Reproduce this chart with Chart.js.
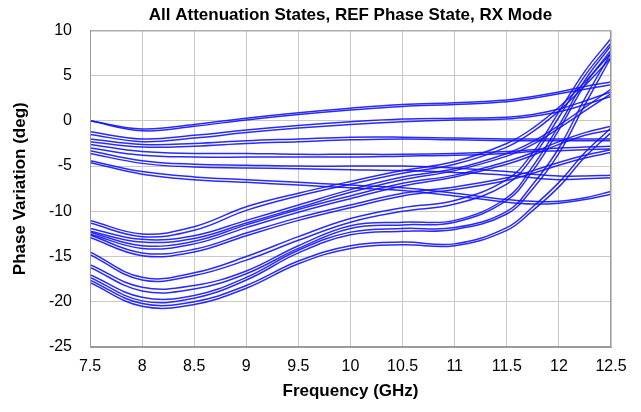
<!DOCTYPE html>
<html>
<head>
<meta charset="utf-8">
<script src="https://cdn.jsdelivr.net/npm/chart.js@4.4.1/dist/chart.umd.min.js"></script>
<style>
  html, body { margin: 0; padding: 0; background: #ffffff; }
  #wrap { width: 641px; height: 412px; position: relative; }
</style>
</head>
<body>
<div id="wrap"><canvas id="c" width="641" height="412"></canvas></div>
<script>
// Frequency points (GHz)
const freq = [7.5, 8, 8.5, 9, 9.5, 10, 10.5, 11, 11.5, 11.75, 12, 12.25, 12.5];
const xTickLabels = [7.5, 8, 8.5, 9, 9.5, 10, 10.5, 11, 11.5, 12, 12.5];
const yTickLabels = [-25, -20, -15, -10, -5, 0, 5, 10];

// Upper group of states (deg)
const stA1 = [0.0, -0.9, -0.4, 0.3, 0.9, 1.4, 1.8, 2.0, 2.3, 2.7, 3.2, 3.8, 4.3];
const stA2 = [0.0, -1.1, -0.6, 0.1, 0.7, 1.2, 1.6, 1.8, 2.1, 2.5, 3.0, 3.5, 4.0];
const stB1 = [-1.2, -2.0, -1.6, -1.0, -0.5, -0.1, 0.2, 0.3, 0.4, 0.7, 1.3, 2.2, 3.2];
const stB2 = [-1.5, -2.3, -1.9, -1.3, -0.8, -0.4, -0.1, 0.1, 0.2, 0.5, 1.0, 1.8, 2.7];
const stC1 = [-2.0, -2.6, -2.5, -2.2, -2.0, -1.8, -1.8, -1.9, -2.0, -2.0, -2.0, -2.0, -2.0];
const stC2 = [-2.3, -2.9, -2.8, -2.5, -2.3, -2.1, -2.0, -2.1, -2.2, -2.2, -2.2, -2.2, -2.2];
const stD1 = [-2.6, -3.4, -3.6, -3.6, -3.7, -3.7, -3.7, -3.6, -3.4, -3.2, -3.0, -2.9, -2.8];
const stD2 = [-3.0, -3.8, -4.0, -4.0, -4.0, -4.0, -3.9, -3.8, -3.6, -3.4, -3.3, -3.2, -3.1];
const stE1 = [-3.3, -4.4, -4.8, -4.9, -5.0, -5.0, -5.0, -5.2, -5.6, -5.9, -6.1, -6.1, -6.0];
const stE2 = [-3.6, -4.7, -5.1, -5.2, -5.3, -5.4, -5.5, -5.7, -6.0, -6.3, -6.5, -6.4, -6.3];
const stF1 = [-4.4, -5.6, -6.2, -6.5, -6.8, -7.1, -7.4, -8.0, -8.7, -8.9, -8.9, -8.5, -7.8];
const stF2 = [-4.6, -5.9, -6.5, -6.8, -7.1, -7.4, -7.7, -8.3, -9.0, -9.2, -9.1, -8.7, -8.1];

// Middle group of states (deg)
const stU1 = [-11.0, -12.5, -11.7, -9.5, -8.0, -6.7, -5.5, -4.5, -2.5, -0.8, 1.5, 4.3, 7.5];
const stU1b = [-11.3, -12.8, -12.1, -9.9, -8.3, -7.0, -5.8, -4.8, -2.9, -1.2, 1.1, 3.9, 7.0];
const stU2 = [-11.9, -13.1, -12.7, -11.0, -9.3, -7.6, -6.2, -5.3, -3.6, -2.3, -0.5, 1.5, 3.5];
const stU2b = [-12.2, -13.4, -13.0, -11.3, -9.6, -7.9, -6.5, -5.5, -3.9, -2.6, -0.8, 1.1, 3.0];
const stU3 = [-12.3, -13.8, -13.3, -11.5, -9.8, -8.3, -6.9, -6.0, -4.5, -3.5, -2.3, -1.3, -0.6];
const stU3b = [-12.5, -14.1, -13.6, -11.8, -10.1, -8.6, -7.2, -6.2, -4.8, -3.8, -2.6, -1.6, -1.0];
const stU4 = [-12.6, -14.6, -14.2, -12.4, -10.7, -9.3, -8.0, -7.3, -6.3, -5.5, -4.6, -3.8, -3.2];
const stU4b = [-12.9, -14.9, -14.5, -12.7, -11.0, -9.6, -8.3, -7.6, -6.6, -5.8, -4.9, -4.1, -3.5];

// Lower group of states (deg)
const stL1 = [-14.5, -17.3, -16.8, -15.0, -12.8, -10.8, -9.6, -8.8, -6.5, -3.5, 1.0, 5.5, 9.1];
const stL1b = [-14.8, -17.6, -17.1, -15.4, -13.2, -11.2, -10.0, -9.2, -7.0, -4.0, 0.4, 5.0, 8.6];
const stL2 = [-15.9, -18.4, -18.2, -16.6, -13.8, -11.6, -11.2, -11.0, -8.5, -5.0, -0.5, 4.5, 8.3];
const stL2b = [-16.2, -18.8, -18.6, -16.9, -14.1, -11.9, -11.5, -11.2, -8.8, -5.5, -1.0, 4.0, 7.8];
const stL3 = [-17.0, -19.5, -19.3, -17.3, -14.3, -12.3, -11.9, -11.8, -10.0, -7.0, -3.0, 2.5, 7.5];
const stL3b = [-17.3, -19.9, -19.6, -17.6, -14.6, -12.6, -12.2, -12.0, -10.3, -7.5, -3.6, 1.8, 7.0];
const stL4 = [-17.6, -20.2, -20.0, -18.2, -15.5, -13.8, -13.4, -13.6, -11.8, -9.5, -6.8, -3.5, -0.8];
const stL4b = [-17.9, -20.5, -20.3, -18.5, -15.8, -14.1, -13.7, -13.8, -12.1, -9.9, -7.3, -4.0, -1.3];

const allSeries = [stA1, stA2, stB1, stB2, stC1, stC2, stD1, stD2, stE1, stE2, stF1, stF2,
  stU1, stU1b, stU2, stU2b, stU3, stU3b, stU4, stU4b,
  stL1, stL1b, stL2, stL2b, stL3, stL3b, stL4, stL4b];

const datasets = allSeries.map((vals, i) => ({
  label: 'State ' + (i + 1),
  data: freq.map((f, k) => ({ x: f, y: vals[k] })),
  borderColor: 'rgba(20,20,245,0.9)',
  borderWidth: 1.5,
  pointRadius: 0,
  fill: false,
  tension: 0.4
}));

const FONT = "'Liberation Sans', Arial, sans-serif";

new Chart(document.getElementById('c'), {
  type: 'line',
  data: { datasets },
  options: {
    responsive: false,
    animation: false,
    devicePixelRatio: 1,
    layout: { padding: { left: 0, right: 30, top: 0, bottom: 0 } },
    plugins: {
      legend: { display: false },
      tooltip: { enabled: false },
      title: {
        display: true,
        fullSize: false,
        text: 'All Attenuation States, REF Phase State, RX Mode',
        color: '#000',
        font: { family: FONT, size: 17, weight: 'bold' },
        padding: { top: 5, bottom: 5 }
      }
    },
    scales: {
      x: {
        type: 'linear',
        min: 7.5, max: 12.5,
        afterBuildTicks: (s) => { s.ticks = xTickLabels.map(v => ({ value: v })); },
        afterFit: (s) => { s.height = 65; },
        grid: { color: '#c8c8c8', lineWidth: 1, drawTicks: false },
        border: { color: '#9a9a9a', width: 1 },
        ticks: { color: '#000', padding: 10, font: { family: FONT, size: 16 }, maxRotation: 0,
          callback: (v) => String(v) },
        title: { display: true, text: 'Frequency (GHz)', color: '#000',
          font: { family: FONT, size: 17, weight: 'bold' }, padding: { top: 0, bottom: 10 } }
      },
      y: {
        min: -25, max: 10,
        afterBuildTicks: (s) => { s.ticks = yTickLabels.map(v => ({ value: v })); },
        afterFit: (s) => { s.width = 90; },
        grid: { color: '#c8c8c8', lineWidth: 1, drawTicks: false },
        border: { color: '#9a9a9a', width: 1 },
        ticks: { color: '#000', padding: 18, font: { family: FONT, size: 16 },
          callback: (v) => String(v) },
        title: { display: true, text: 'Phase Variation (deg)', color: '#000',
          font: { family: FONT, size: 17, weight: 'bold' }, padding: { top: 10, bottom: 0 } }
      }
    }
  },
  plugins: [{
    id: 'frame',
    afterDraw(chart) {
      const { ctx, chartArea: a } = chart;
      ctx.save();
      ctx.strokeStyle = '#9a9a9a';
      ctx.lineWidth = 1;
      ctx.strokeRect(a.left + 0.5, a.top + 0.5, a.right - a.left - 1, a.bottom - a.top - 1);
      ctx.restore();
    }
  }]
});
</script>
</body>
</html>
